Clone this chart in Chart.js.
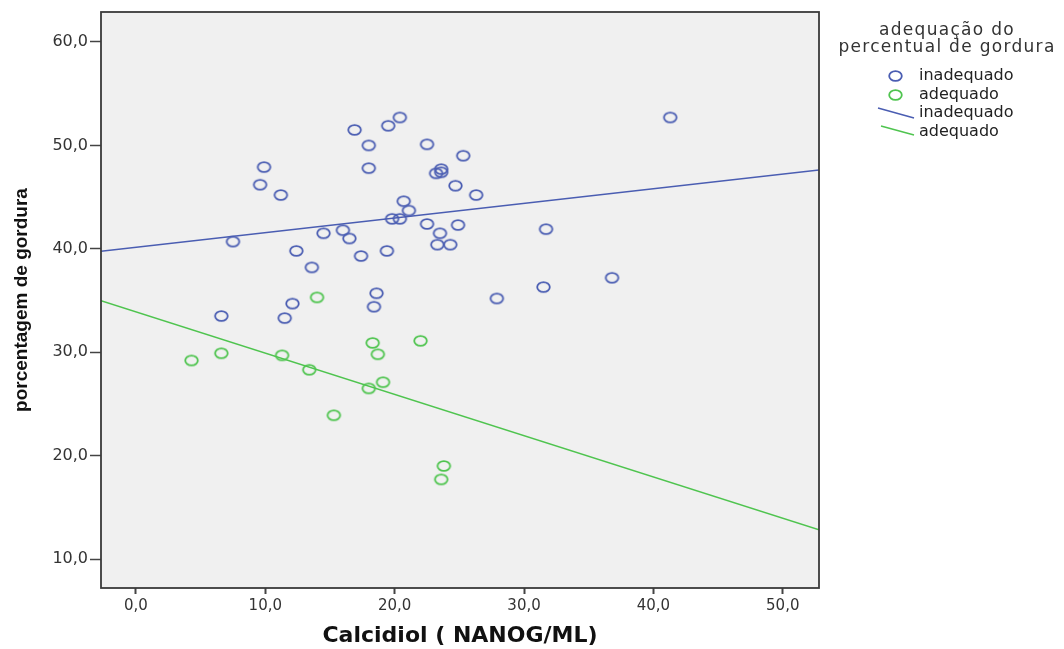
<!DOCTYPE html>
<html>
<head>
<meta charset="utf-8">
<script src="https://cdn.jsdelivr.net/npm/chart.js@4"></script>
<style>
  body { margin: 0; background: #fff; }
  #wrap { width: 1064px; height: 649px; }
</style>
</head>
<body>
<div id="wrap"><canvas id="chart" width="1064" height="649"></canvas></div>
<script>
// Data
const inadequadoX = [9.9, 9.6, 11.2, 16.9, 19.5, 20.4, 18.0, 18.0, 22.5, 25.3, 23.2, 23.6, 23.6, 24.7, 26.3,
    20.7, 21.1, 19.8, 20.4, 7.5, 14.5, 16.0, 16.5, 22.5, 24.9, 23.5, 23.3, 24.3, 12.4, 17.4, 19.4,
    13.6, 18.6, 12.1, 18.4, 6.6, 11.5, 41.3, 31.7, 36.8, 31.5, 27.9];
const inadequadoY = [47.9, 46.2, 45.2, 51.5, 51.9, 52.7, 50.0, 47.8, 50.1, 49.0, 47.3, 47.7, 47.4, 46.1, 45.2,
    44.6, 43.7, 42.9, 42.9, 40.7, 41.5, 41.8, 41.0, 42.4, 42.3, 41.5, 40.4, 40.4, 39.8, 39.3, 39.8,
    38.2, 35.7, 34.7, 34.4, 33.5, 33.3, 52.7, 41.9, 37.2, 36.3, 35.2];
const adequadoX = [14.0, 4.3, 6.6, 11.3, 13.4, 18.3, 18.7, 22.0, 19.1, 18.0, 15.3, 23.8, 23.6];
const adequadoY = [35.3, 29.2, 29.9, 29.7, 28.3, 30.9, 29.8, 31.1, 27.1, 26.5, 23.9, 19.0, 17.7];

// Fit lines (ends at the axis edges)
const fitX = [-2.7, 52.8];
const fitInadequado = [39.77, 47.61];
const fitAdequado = [34.97, 12.82];

const xTicks = [0, 10, 20, 30, 40, 50];
const yTicks = [10, 20, 30, 40, 50, 60];

const blue = '#4a5db2';
const green = '#4fc44f';

function toPoints(xs, ys) {
    return xs.map((x, i) => ({ x: x, y: ys[i] }));
}

// Circle marker, drawn slightly wider than tall like the original
function makeMarker(color) {
    const c = document.createElement('canvas');
    c.width = 17;
    c.height = 14;
    const g = c.getContext('2d');
    g.strokeStyle = color;
    g.lineWidth = 1.8;
    g.beginPath();
    g.ellipse(8.5, 7, 6.3, 4.9, 0, 0, Math.PI * 2);
    g.stroke();
    return c;
}

const blueMarker = makeMarker(blue);
const greenMarker = makeMarker(green);

const fmt = v => v.toFixed(1).replace('.', ',');

// Plot background and frame
const framePlugin = {
    id: 'frame',
    beforeDatasetsDraw(chart) {
        const a = chart.chartArea;
        const ctx = chart.ctx;
        ctx.save();
        ctx.fillStyle = '#f0f0f0';
        ctx.fillRect(a.left, a.top, a.right - a.left, a.bottom - a.top);
        ctx.restore();
    },
    afterDraw(chart) {
        const a = chart.chartArea;
        const ctx = chart.ctx;
        ctx.save();
        ctx.strokeStyle = '#3a3a3a';
        ctx.lineWidth = 1.8;
        ctx.strokeRect(a.left, a.top, a.right - a.left, a.bottom - a.top);
        ctx.restore();
    }
};

// Legend on the right, SPSS style
const legendPlugin = {
    id: 'sideLegend',
    afterDraw(chart) {
        const ctx = chart.ctx;
        ctx.save();
        ctx.fillStyle = '#333';
        ctx.textAlign = 'center';
        ctx.textBaseline = 'middle';
        ctx.font = '17px "DejaVu Sans"';
        ctx.letterSpacing = '1.3px';
        ctx.fillText('adequação do', 947, 31);
        ctx.fillText('percentual de gordura', 947, 48);
        ctx.letterSpacing = '0px';

        ctx.textAlign = 'left';
        ctx.fillStyle = '#222';
        ctx.font = '16px "DejaVu Sans"';
        const rows = ['inadequado', 'adequado', 'inadequado', 'adequado'];
        const ys = [76, 95, 113, 132];
        rows.forEach((t, i) => ctx.fillText(t, 919, ys[i]));

        ctx.drawImage(blueMarker, 887, 69);
        ctx.drawImage(greenMarker, 887, 88);

        ctx.lineWidth = 1.5;
        ctx.strokeStyle = blue;
        ctx.beginPath();
        ctx.moveTo(878, 108);
        ctx.lineTo(914, 118);
        ctx.stroke();
        ctx.strokeStyle = green;
        ctx.beginPath();
        ctx.moveTo(881, 126);
        ctx.lineTo(914, 135);
        ctx.stroke();
        ctx.restore();
    }
};

new Chart(document.getElementById('chart'), {
    type: 'scatter',
    data: {
        datasets: [
            {
                label: 'inadequado',
                data: toPoints(inadequadoX, inadequadoY),
                pointStyle: blueMarker,
                pointRadius: 6
            },
            {
                label: 'adequado',
                data: toPoints(adequadoX, adequadoY),
                pointStyle: greenMarker,
                pointRadius: 6
            },
            {
                type: 'line',
                label: 'inadequado fit',
                data: toPoints(fitX, fitInadequado),
                borderColor: blue,
                borderWidth: 1.5,
                pointRadius: 0,
                fill: false
            },
            {
                type: 'line',
                label: 'adequado fit',
                data: toPoints(fitX, fitAdequado),
                borderColor: green,
                borderWidth: 1.5,
                pointRadius: 0,
                fill: false
            }
        ]
    },
    options: {
        responsive: false,
        animation: false,
        events: [],
        layout: {
            padding: { top: 12, right: 245, left: 0, bottom: 0 }
        },
        plugins: {
            legend: { display: false },
            tooltip: { enabled: false }
        },
        scales: {
            x: {
                type: 'linear',
                min: -2.7,
                max: 52.8,
                afterBuildTicks: scale => { scale.ticks = xTicks.map(v => ({ value: v })); },
                afterFit: scale => { scale.height = 61; },
                border: { display: false },
                grid: {
                    drawOnChartArea: false,
                    drawTicks: true,
                    tickLength: 6,
                    tickColor: '#444',
                    tickWidth: 2
                },
                ticks: {
                    padding: 3,
                    color: '#333',
                    font: { family: 'DejaVu Sans', size: 15 },
                    callback: v => fmt(v)
                },
                title: {
                    display: true,
                    text: 'Calcidiol ( NANOG/ML)',
                    color: '#111',
                    font: { family: 'DejaVu Sans', size: 22, weight: 'bold' },
                    padding: { top: 0, bottom: 0 }
                }
            },
            y: {
                type: 'linear',
                min: 7.2,
                max: 62.9,
                afterBuildTicks: scale => { scale.ticks = yTicks.map(v => ({ value: v })); },
                afterFit: scale => { scale.width = 101; },
                border: { display: false },
                grid: {
                    drawOnChartArea: false,
                    drawTicks: true,
                    tickLength: 11,
                    tickColor: '#444',
                    tickWidth: 1.5
                },
                ticks: {
                    padding: 2,
                    color: '#333',
                    font: { family: 'DejaVu Sans', size: 16 },
                    callback: v => fmt(v)
                },
                title: {
                    display: true,
                    text: 'porcentagem de gordura',
                    color: '#111',
                    font: { family: 'Liberation Sans', size: 19, weight: 'bold' },
                    padding: { top: 10, bottom: 0 }
                }
            }
        }
    },
    plugins: [framePlugin, legendPlugin]
});
</script>
</body>
</html>
